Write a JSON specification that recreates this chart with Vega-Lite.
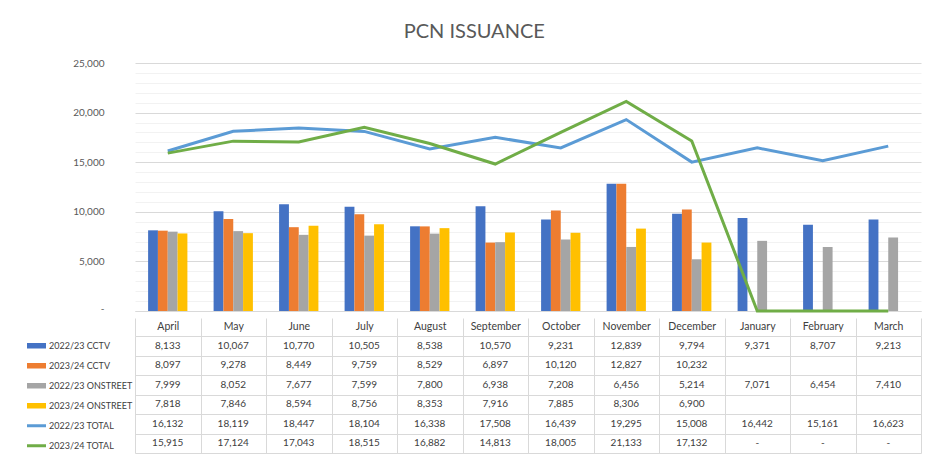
{
  "$schema": "https://vega.github.io/schema/vega-lite/v6.json",
  "background": "white",
  "padding": {"left": 27, "top": 22, "right": 5, "bottom": 5},
  "title": {"text": "PCN ISSUANCE", "fontSize": 20, "font": "Lato", "fontWeight": "normal", "color": "#595959", "anchor": "middle", "frame": "bounds", "offset": 16},
  "config": {"font": "Lato", "view": {"stroke": null}},
  "spacing": 0,
  "datasets": {
    "d": [
      {"month": "April", "series": "2022/23 CCTV", "value": 8133},
      {"month": "May", "series": "2022/23 CCTV", "value": 10067},
      {"month": "June", "series": "2022/23 CCTV", "value": 10770},
      {"month": "July", "series": "2022/23 CCTV", "value": 10505},
      {"month": "August", "series": "2022/23 CCTV", "value": 8538},
      {"month": "September", "series": "2022/23 CCTV", "value": 10570},
      {"month": "October", "series": "2022/23 CCTV", "value": 9231},
      {"month": "November", "series": "2022/23 CCTV", "value": 12839},
      {"month": "December", "series": "2022/23 CCTV", "value": 9794},
      {"month": "January", "series": "2022/23 CCTV", "value": 9371},
      {"month": "February", "series": "2022/23 CCTV", "value": 8707},
      {"month": "March", "series": "2022/23 CCTV", "value": 9213},
      {"month": "April", "series": "2023/24 CCTV", "value": 8097},
      {"month": "May", "series": "2023/24 CCTV", "value": 9278},
      {"month": "June", "series": "2023/24 CCTV", "value": 8449},
      {"month": "July", "series": "2023/24 CCTV", "value": 9759},
      {"month": "August", "series": "2023/24 CCTV", "value": 8529},
      {"month": "September", "series": "2023/24 CCTV", "value": 6897},
      {"month": "October", "series": "2023/24 CCTV", "value": 10120},
      {"month": "November", "series": "2023/24 CCTV", "value": 12827},
      {"month": "December", "series": "2023/24 CCTV", "value": 10232},
      {"month": "April", "series": "2022/23 ONSTREET", "value": 7999},
      {"month": "May", "series": "2022/23 ONSTREET", "value": 8052},
      {"month": "June", "series": "2022/23 ONSTREET", "value": 7677},
      {"month": "July", "series": "2022/23 ONSTREET", "value": 7599},
      {"month": "August", "series": "2022/23 ONSTREET", "value": 7800},
      {"month": "September", "series": "2022/23 ONSTREET", "value": 6938},
      {"month": "October", "series": "2022/23 ONSTREET", "value": 7208},
      {"month": "November", "series": "2022/23 ONSTREET", "value": 6456},
      {"month": "December", "series": "2022/23 ONSTREET", "value": 5214},
      {"month": "January", "series": "2022/23 ONSTREET", "value": 7071},
      {"month": "February", "series": "2022/23 ONSTREET", "value": 6454},
      {"month": "March", "series": "2022/23 ONSTREET", "value": 7410},
      {"month": "April", "series": "2023/24 ONSTREET", "value": 7818},
      {"month": "May", "series": "2023/24 ONSTREET", "value": 7846},
      {"month": "June", "series": "2023/24 ONSTREET", "value": 8594},
      {"month": "July", "series": "2023/24 ONSTREET", "value": 8756},
      {"month": "August", "series": "2023/24 ONSTREET", "value": 8353},
      {"month": "September", "series": "2023/24 ONSTREET", "value": 7916},
      {"month": "October", "series": "2023/24 ONSTREET", "value": 7885},
      {"month": "November", "series": "2023/24 ONSTREET", "value": 8306},
      {"month": "December", "series": "2023/24 ONSTREET", "value": 6900},
      {"month": "April", "series": "2022/23 TOTAL", "value": 16132},
      {"month": "May", "series": "2022/23 TOTAL", "value": 18119},
      {"month": "June", "series": "2022/23 TOTAL", "value": 18447},
      {"month": "July", "series": "2022/23 TOTAL", "value": 18104},
      {"month": "August", "series": "2022/23 TOTAL", "value": 16338},
      {"month": "September", "series": "2022/23 TOTAL", "value": 17508},
      {"month": "October", "series": "2022/23 TOTAL", "value": 16439},
      {"month": "November", "series": "2022/23 TOTAL", "value": 19295},
      {"month": "December", "series": "2022/23 TOTAL", "value": 15008},
      {"month": "January", "series": "2022/23 TOTAL", "value": 16442},
      {"month": "February", "series": "2022/23 TOTAL", "value": 15161},
      {"month": "March", "series": "2022/23 TOTAL", "value": 16623},
      {"month": "April", "series": "2023/24 TOTAL", "value": 15915},
      {"month": "May", "series": "2023/24 TOTAL", "value": 17124},
      {"month": "June", "series": "2023/24 TOTAL", "value": 17043},
      {"month": "July", "series": "2023/24 TOTAL", "value": 18515},
      {"month": "August", "series": "2023/24 TOTAL", "value": 16882},
      {"month": "September", "series": "2023/24 TOTAL", "value": 14813},
      {"month": "October", "series": "2023/24 TOTAL", "value": 18005},
      {"month": "November", "series": "2023/24 TOTAL", "value": 21133},
      {"month": "December", "series": "2023/24 TOTAL", "value": 17132},
      {"month": "January", "series": "2023/24 TOTAL", "value": 0},
      {"month": "February", "series": "2023/24 TOTAL", "value": 0},
      {"month": "March", "series": "2023/24 TOTAL", "value": 0}
    ]
  },
  "data": {"name": "d"},
  "resolve": {"scale": {"x": "independent", "color": "independent", "shape": "independent"}},
  "vconcat": [
    {
      "width": 786,
      "height": 248,
      "encoding": {
        "x": {
          "field": "month", "type": "nominal",
          "sort": ["April","May","June","July","August","September","October","November","December","January","February","March"],
          "scale": {"paddingInner": 0.4, "paddingOuter": 0.2},
          "axis": {"title": null, "labels": false, "ticks": false, "domain": true, "domainColor": "#d9d9d9", "minExtent": 0, "maxExtent": 0}
        },
        "y": {
          "field": "value", "type": "quantitative",
          "scale": {"domain": [0, 25000], "nice": false},
          "axis": {
            "title": null,
            "values": [0,1000,2000,3000,4000,5000,6000,7000,8000,9000,10000,11000,12000,13000,14000,15000,16000,17000,18000,19000,20000,21000,22000,23000,24000,25000],
            "grid": true,
            "gridColor": {"condition": {"test": "datum.value % 5000 === 0", "value": "#d9d9d9"}, "value": "#f2f2f2"},
            "ticks": false, "domain": false, "labelOverlap": false,
            "labelExpr": "datum.value % 5000 === 0 ? (datum.value === 0 ? '-' : datum.label) : ''",
            "labelBaseline": {"condition": {"test": "datum.value === 0", "value": "alphabetic"}, "value": "middle"},
            "labelFontSize": 10, "labelColor": "#595959", "labelPadding": 31
          }
        }
      },
      "layer": [
        {
          "transform": [{"filter": "indexof(['2022/23 CCTV','2023/24 CCTV','2022/23 ONSTREET','2023/24 ONSTREET'], datum.series) >= 0"}],
          "mark": {"type": "bar"},
          "encoding": {
            "xOffset": {"field": "series", "type": "nominal", "sort": ["2022/23 CCTV","2023/24 CCTV","2022/23 ONSTREET","2023/24 ONSTREET"], "scale": {"domain": ["2022/23 CCTV","2023/24 CCTV","2022/23 ONSTREET","2023/24 ONSTREET"], "paddingInner": 0, "paddingOuter": 0}},
            "color": {"field": "series", "type": "nominal", "scale": {"domain": ["2022/23 CCTV","2023/24 CCTV","2022/23 ONSTREET","2023/24 ONSTREET","2022/23 TOTAL","2023/24 TOTAL"], "range": ["#4472C4","#ED7D31","#A5A5A5","#FFC000","#5B9BD5","#70AD47"]}, "legend": null}
          }
        },
        {
          "transform": [{"filter": "indexof(['2022/23 TOTAL','2023/24 TOTAL'], datum.series) >= 0"}],
          "mark": {"type": "line", "strokeWidth": 3},
          "encoding": {
            "color": {"field": "series", "type": "nominal", "legend": null}
          }
        }
      ]
    },
    {
      "width": 786,
      "height": 117,
      "encoding": {
        "x": {
          "field": "month", "type": "nominal",
          "sort": ["April","May","June","July","August","September","October","November","December","January","February","March"],
          "scale": {"paddingInner": 0, "paddingOuter": 0},
          "axis": {"title": null, "orient": "top", "labelAngle": 0, "labelFontSize": 10.5, "labelColor": "#404040", "labelPadding": -13, "ticks": true, "tickSize": 18, "tickColor": "#d9d9d9", "domain": false, "grid": true, "tickBand": "extent", "gridColor": "#d9d9d9", "minExtent": 18, "maxExtent": 18}
        },
        "y": {
          "field": "series", "type": "nominal",
          "sort": ["2022/23 CCTV","2023/24 CCTV","2022/23 ONSTREET","2023/24 ONSTREET","2022/23 TOTAL","2023/24 TOTAL"],
          "scale": {"domain": ["2022/23 CCTV","2023/24 CCTV","2022/23 ONSTREET","2023/24 ONSTREET","2022/23 TOTAL","2023/24 TOTAL"], "paddingInner": 0, "paddingOuter": 0},
          "axis": {"title": null, "labels": false, "ticks": false, "domain": false, "grid": true, "tickBand": "extent", "gridColor": "#d9d9d9", "minExtent": 0, "maxExtent": 0}
        }
      },
      "layer": [
        {
          "mark": {"type": "text", "fontSize": 10, "color": "#404040"},
          "encoding": {
            "text": {"condition": {"test": "datum.value === 0", "value": "-"}, "field": "value", "type": "quantitative", "format": ","}
          }
        },
        {
          "mark": {"type": "point", "filled": true, "opacity": 0},
          "encoding": {
            "color": {
              "field": "series", "type": "nominal",
              "scale": {"domain": ["2022/23 CCTV","2023/24 CCTV","2022/23 ONSTREET","2023/24 ONSTREET","2022/23 TOTAL","2023/24 TOTAL"], "range": ["#4472C4","#ED7D31","#A5A5A5","#FFC000","#5B9BD5","#70AD47"]},
              "legend": {"title": null, "orient": "left", "offset": 2, "symbolSize": 361, "symbolOpacity": 1, "symbolStrokeWidth": 0, "labelFontSize": 9, "labelColor": "#404040", "rowPadding": 0, "clipHeight": 19.5, "labelOffset": 3, "padding": 0}
            },
            "shape": {
              "field": "series", "type": "nominal",
              "scale": {"domain": ["2022/23 CCTV","2023/24 CCTV","2022/23 ONSTREET","2023/24 ONSTREET","2022/23 TOTAL","2023/24 TOTAL"], "range": ["M-1,-0.3H1V0.3H-1Z","M-1,-0.3H1V0.3H-1Z","M-1,-0.3H1V0.3H-1Z","M-1,-0.3H1V0.3H-1Z","M-1,-0.16H1V0.16H-1Z","M-1,-0.16H1V0.16H-1Z"]},
              "legend": {"title": null, "orient": "left", "offset": 2, "symbolSize": 361, "symbolOpacity": 1, "symbolStrokeWidth": 0, "labelFontSize": 9, "labelColor": "#404040", "rowPadding": 0, "clipHeight": 19.5, "labelOffset": 3, "padding": 0}
            }
          }
        }
      ]
    }
  ]
}
